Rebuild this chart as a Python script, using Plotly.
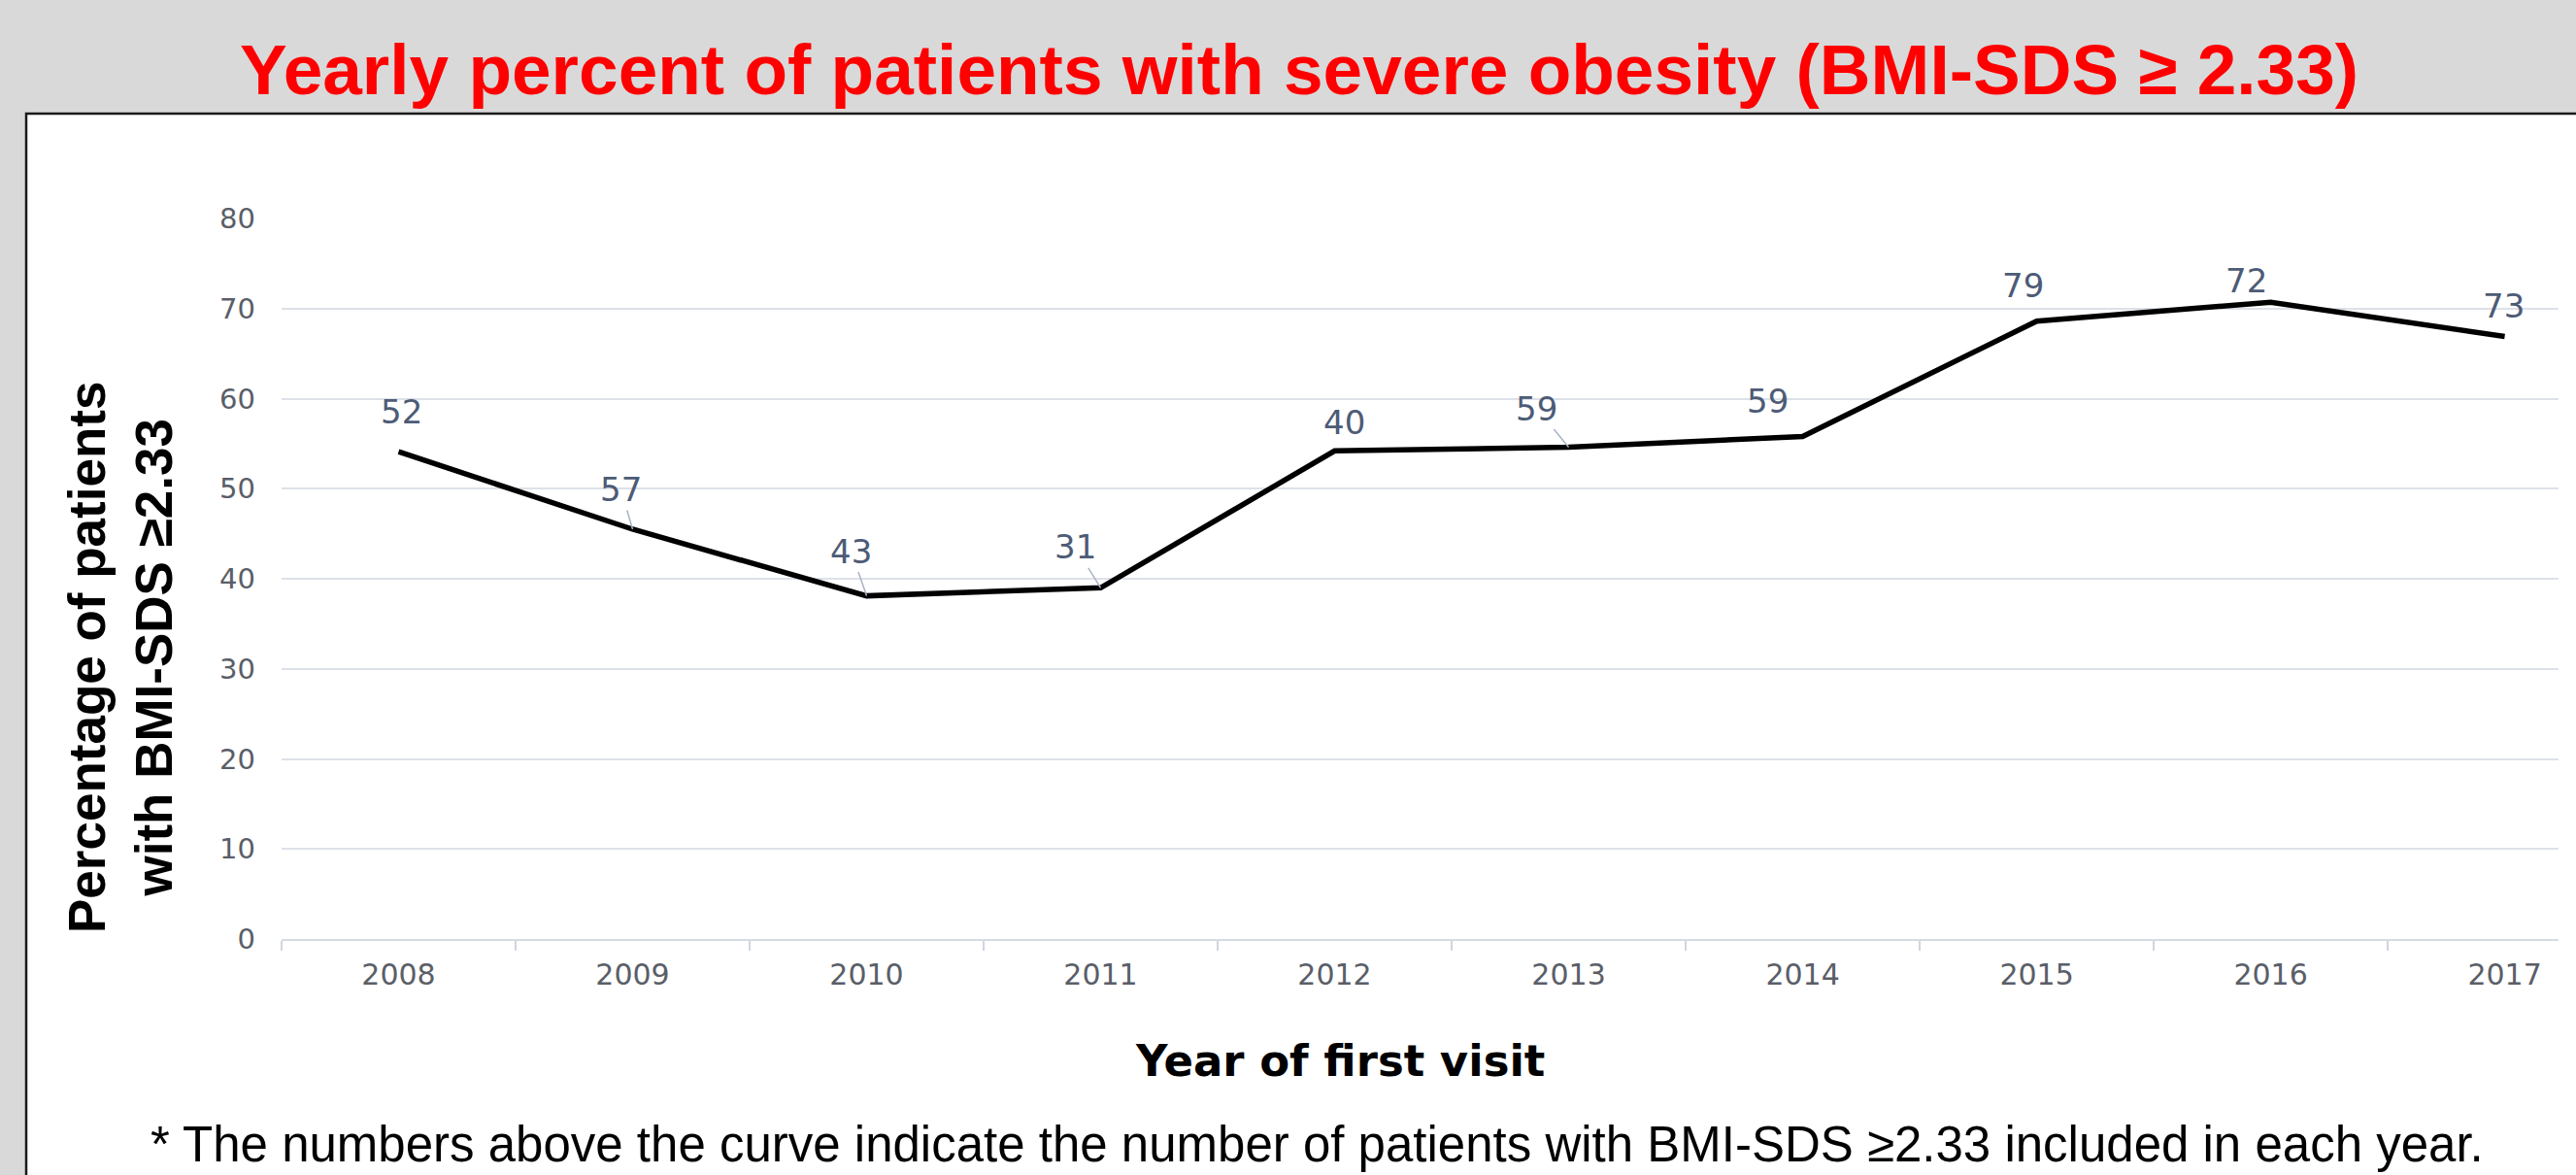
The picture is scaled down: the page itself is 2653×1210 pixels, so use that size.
import plotly.graph_objects as go

# ---------------- data ----------------
years = ["2008", "2009", "2010", "2011", "2012", "2013", "2014", "2015", "2016", "2017"]
percent_severe = [54.1, 45.5, 38.1, 39.0, 54.2, 54.6, 55.8, 68.6, 70.7, 66.9]
patient_counts = [52, 57, 43, 31, 40, 59, 59, 79, 72, 73]
y_ticks = [0, 10, 20, 30, 40, 50, 60, 70, 80]

title_text = "Yearly percent of patients with severe obesity (BMI-SDS \u2265 2.33)"
y_title = "Percentage of patients<br>with BMI-SDS \u22652.33"
x_title = "Year of first visit"
footnote = ("* The numbers above the curve indicate the number of patients with "
            "BMI-SDS \u22652.33 included in each year.")

# ---------------- layout helpers (pixels) ----------------
W, H = 2653, 1210
label_dx = [3, -12, -16, -26, 10, -33, -36, -14, -25, -1]
label_dy = [-41, -41, -46, -42, -29, -40, -36, -37, -22, -31]
leader = [False, True, True, True, False, True, False, False, False, False]


def px(x):
    return x / W


def py(y):
    return 1 - y / H


fig = go.Figure()
fig.add_trace(go.Scatter(
    x=years, y=percent_severe, mode="lines",
    line=dict(color="black", width=5.5),
    cliponaxis=False, hoverinfo="x+y", showlegend=False,
))

annotations = []
for i, (v, n) in enumerate(zip(percent_severe, patient_counts)):
    annotations.append(dict(
        x=i, y=v, xref="x", yref="y", text=str(n),
        showarrow=True, arrowhead=0, arrowwidth=1.5, standoff=0,
        arrowcolor="#a9b3c6" if leader[i] else "rgba(0,0,0,0)",
        ax=label_dx[i], ay=label_dy[i],
        font=dict(family="DejaVu Sans", size=34, color="#4d5b76"),
    ))

# title
annotations.append(dict(
    x=px(1338), y=py(72), xref="paper", yref="paper", text=f"<b>{title_text}</b>",
    showarrow=False, xanchor="center", yanchor="middle",
    font=dict(family="Liberation Sans, Arial", size=73, color="#ff0000"),
))
# y-axis title
annotations.append(dict(
    x=px(124), y=py(677), xref="paper", yref="paper", text=f"<b>{y_title}</b>",
    showarrow=False, xanchor="center", yanchor="middle", textangle=-90,
    font=dict(family="Liberation Sans, Arial", size=53, color="black"),
))
# x-axis title
annotations.append(dict(
    x=px(1380), y=py(1092), xref="paper", yref="paper", text=f"<b>{x_title}</b>",
    showarrow=False, xanchor="center", yanchor="middle",
    font=dict(family="DejaVu Sans", size=45, color="black"),
))
# footnote
annotations.append(dict(
    x=px(1356), y=py(1178), xref="paper", yref="paper", text=footnote,
    showarrow=False, xanchor="center", yanchor="middle",
    font=dict(family="Liberation Sans, Arial", size=51, color="black"),
))

fig.update_layout(
    template="none",
    width=W, height=H, autosize=False,
    margin=dict(l=0, r=0, t=0, b=0, pad=0),
    paper_bgcolor="#d9d9d9", plot_bgcolor="rgba(0,0,0,0)",
    showlegend=False,
    annotations=annotations,
    shapes=[dict(
        type="rect", xref="paper", yref="paper",
        x0=px(27), x1=1.02, y0=-0.02, y1=py(117),
        fillcolor="white", line=dict(color="#1a1a1a", width=2.5), layer="below",
    )],
    xaxis=dict(
        type="category", categoryorder="array", categoryarray=years,
        range=[-0.5, 9.23], domain=[px(290), px(2635)], automargin=False,
        tickson="boundaries", ticks="outside", ticklen=10, tickwidth=1.5,
        tickcolor="#d0d5de", showline=True, linecolor="#d6dae2", linewidth=2,
        showgrid=False, zeroline=False, ticklabelstandoff=9,
        tickfont=dict(family="DejaVu Sans", size=30, color="#5a5e68"),
    ),
    yaxis=dict(
        range=[0, 80], domain=[py(967), py(225)], automargin=False,
        tickmode="array", tickvals=y_ticks,
        showgrid=True, gridcolor="#dde1e9", gridwidth=1.5,
        zeroline=False, showline=False, ticks="", ticklabelstandoff=26,
        tickfont=dict(family="DejaVu Sans", size=29, color="#5a5e68"),
    ),
)

fig.write_html("out.html")
